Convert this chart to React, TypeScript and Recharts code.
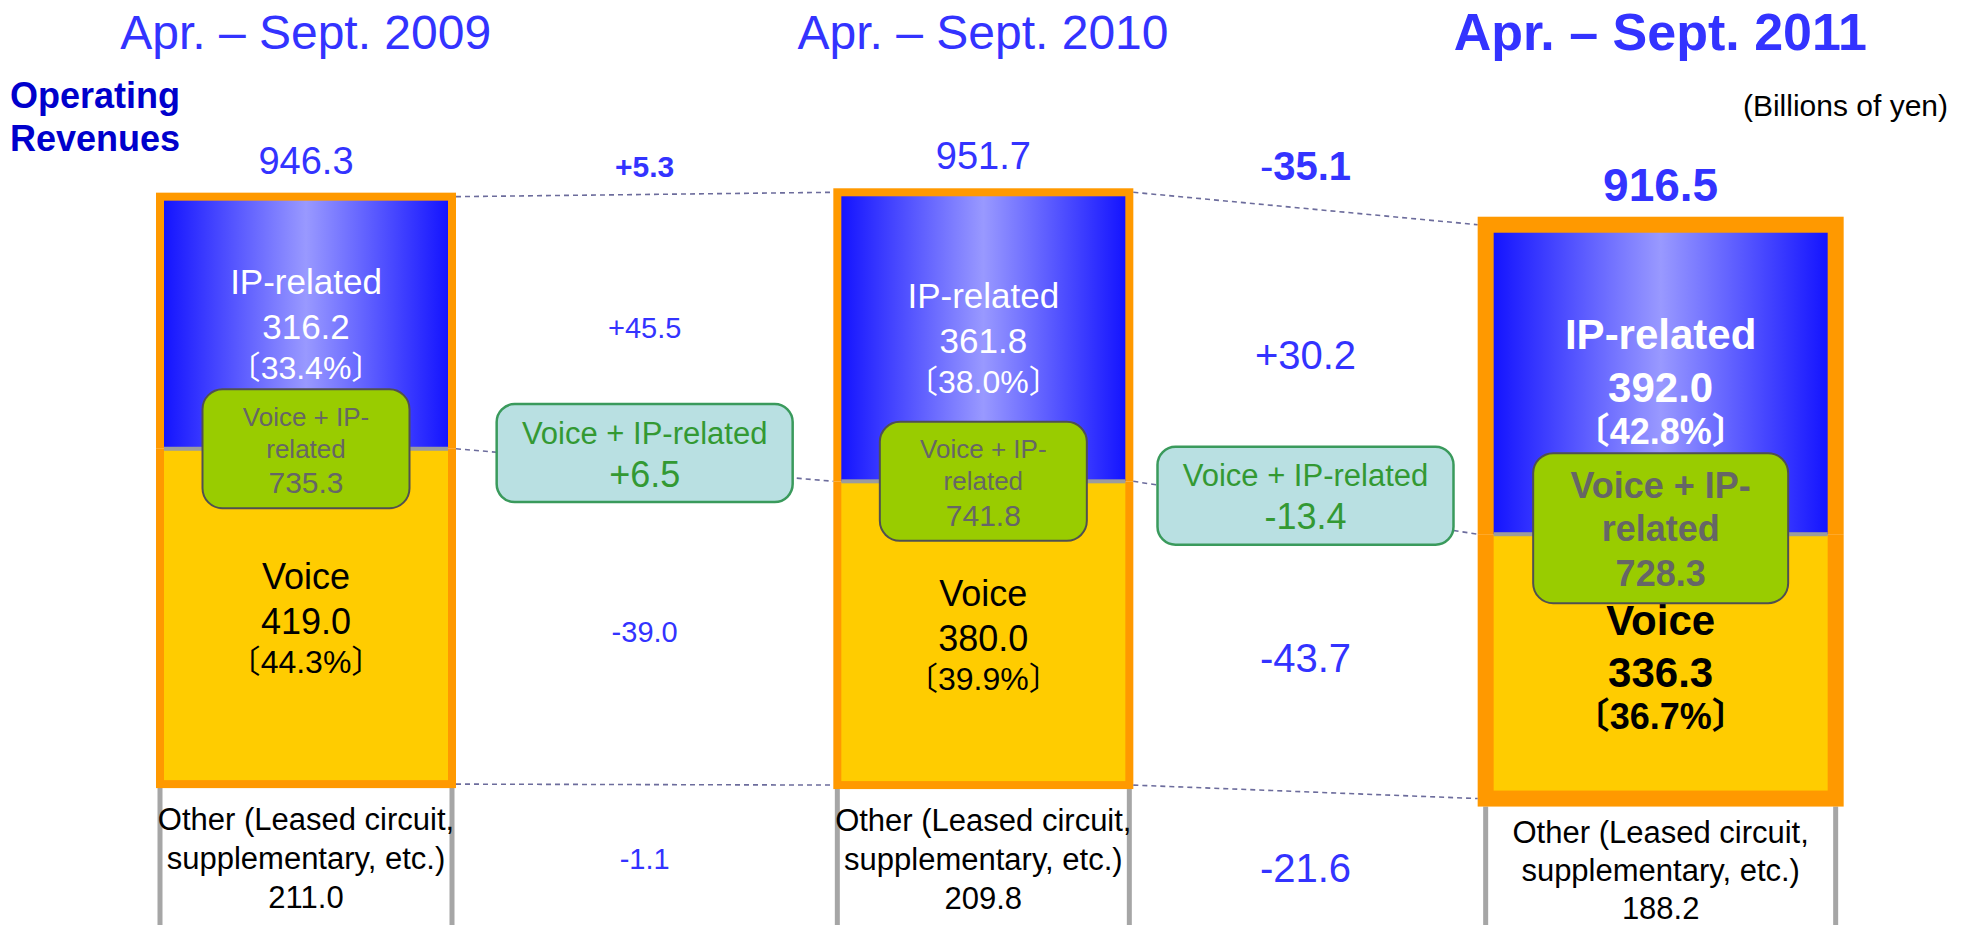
import React from "react";
import { BarChart, Bar, XAxis, YAxis, LabelList } from "recharts";

// Operating revenues, billions of yen
const periods = ["Apr. – Sept. 2009", "Apr. – Sept. 2010", "Apr. – Sept. 2011"];
const otherRev = [211.0, 209.8, 188.2];
const voiceRev = [419.0, 380.0, 336.3];
const ipRev = [316.2, 361.8, 392.0];
const totalRev = [946.3, 951.7, 916.5];
const voicePct = [44.3, 39.9, 36.7];
const ipPct = [33.4, 38.0, 42.8];
const voiceIpRev = [735.3, 741.8, 728.3];

// changes between neighbouring periods
const totalChange = [5.3, -35.1];
const ipChange = [45.5, 30.2];
const voiceIpChange = [6.5, -13.4];
const voiceChange = [-39.0, -43.7];
const otherChange = [-1.1, -21.6];

const data = periods.map((period, i) => ({
  period,
  other: otherRev[i],
  voice: voiceRev[i],
  ip: ipRev[i],
}));

const FONT = "'Liberation Sans', Arial, 'Noto Sans CJK JP', sans-serif";
const BLUE_TXT = "#3333ff";
const ORANGE = "#ff9900";
const YELLOW = "#ffcc00";
const CHART_W = 2032;
const CHART_H = 959;
const CHART_LEFT = -33;
const AXIS_H = 60;
const BAND = CHART_W / periods.length;
const BAR = 300;
const HL = 2; // current period, drawn wider and bold
const WIDE = 1.22;

const borderOf = (i: number) => (i === HL ? 16 : 8);
const barWidth = (i: number, w: number) => (i === HL ? w * WIDE : w);
const slot = (x: number, w: number) =>
  Math.min(periods.length - 1, Math.max(0, Math.floor((x + w / 2) / BAND)));
const signed = (v: number) => (v > 0 ? "+" : "") + v.toFixed(1);

const txt = {
  textAnchor: "middle" as const,
  dominantBaseline: "central" as const,
  fontFamily: FONT,
};

const TitleTick = (props: any) => {
  const { x, y, payload } = props;
  const hl = periods.indexOf(payload.value) === HL;
  return (
    <text
      x={x}
      y={y - 20}
      {...txt}
      fontSize={hl ? 52 : 48}
      fontWeight={hl ? 700 : 400}
      fill={BLUE_TXT}
    >
      {payload.value}
    </text>
  );
};

const OtherShape = (p: any) => {
  const { x, y, width, height } = p;
  const i = slot(x, width);
  const w = barWidth(i, width);
  const x0 = x + width / 2 - w / 2;
  const b = borderOf(i);
  return (
    <g>
      <rect x={x0} y={y} width={w} height={height} fill="#ffffff" />
      <line x1={x0 + b / 2} x2={x0 + b / 2} y1={y} y2={y + height} stroke="#a6a6a6" strokeWidth={5} />
      <line x1={x0 + w - b / 2} x2={x0 + w - b / 2} y1={y} y2={y + height} stroke="#a6a6a6" strokeWidth={5} />
    </g>
  );
};

const VoiceShape = (p: any) => {
  const { x, y, width, height } = p;
  const i = slot(x, width);
  const w = barWidth(i, width);
  const x0 = x + width / 2 - w / 2;
  const b = borderOf(i);
  return (
    <g>
      <rect x={x0} y={y} width={w} height={height} fill={ORANGE} />
      <rect x={x0 + b} y={y} width={w - 2 * b} height={height - b} fill={YELLOW} />
    </g>
  );
};

// dashed connectors and change figures between bar i and bar i + 1
const Bridge = ({ i, x, y, width, height }: any) => {
  const j = i + 1;
  const k = height / ipRev[i];
  const base = y + height + (voiceRev[i] + otherRev[i]) * k;
  const yOf = (v: number) => base - v * k;
  const cx = x + width / 2;
  const right = cx + barWidth(i, width) / 2;
  const left = cx + BAND - barWidth(j, width) / 2;
  const mx = (right + left) / 2;
  const top = (n: number) => yOf(otherRev[n] + voiceRev[n] + ipRev[n]);
  const mid = (n: number) => yOf(otherRev[n] + voiceRev[n]);
  const bot = (n: number) => yOf(otherRev[n]);
  const big = j === HL;
  const fs = big ? 40 : 29;
  const dash = { stroke: "#6c6c9c", strokeWidth: 1.6, strokeDasharray: "5 4" };
  const boxY = (mid(i) + mid(j)) / 2 - 12;
  const tc = totalChange[i];
  return (
    <g>
      <line x1={right} y1={top(i) + borderOf(i) / 2} x2={left} y2={top(j) + borderOf(j) / 2} {...dash} />
      <line x1={right} y1={mid(i)} x2={left} y2={mid(j)} {...dash} />
      <line x1={right} y1={bot(i) - borderOf(i) / 2} x2={left} y2={bot(j) - borderOf(j) / 2} {...dash} />
      <text x={mx} y={Math.min(top(i), top(j)) - 22} {...txt} fontSize={big ? 40 : 30} fontWeight={700} fill={BLUE_TXT}>
        {tc < 0 ? (
          <>
            <tspan fontWeight={400}>-</tspan>
            <tspan>{Math.abs(tc).toFixed(1)}</tspan>
          </>
        ) : (
          signed(tc)
        )}
      </text>
      <text x={mx} y={(top(i) + mid(i) + top(j) + mid(j)) / 4} {...txt} fontSize={fs} fill={BLUE_TXT}>
        {signed(ipChange[i])}
      </text>
      <rect x={mx - 148} y={boxY - 49} width={296} height={98} rx={18} fill="#b9e0e2" stroke="#3a9a5c" strokeWidth={2.5} />
      <text x={mx} y={boxY - 20} {...txt} fontSize={31} fill="#339933">
        Voice + IP-related
      </text>
      <text x={mx} y={boxY + 21} {...txt} fontSize={36} fill="#339933">
        {signed(voiceIpChange[i])}
      </text>
      <text x={mx} y={(mid(i) + bot(i) + mid(j) + bot(j)) / 4 + 5} {...txt} fontSize={fs} fill={BLUE_TXT}>
        {signed(voiceChange[i])}
      </text>
      <text x={mx} y={(bot(i) + bot(j)) / 2 + 70} {...txt} fontSize={fs} fill={BLUE_TXT}>
        {signed(otherChange[i])}
      </text>
    </g>
  );
};

const IpShape = (p: any) => {
  const { x, y, width, height } = p;
  const i = slot(x, width);
  const w = barWidth(i, width);
  const x0 = x + width / 2 - w / 2;
  const b = borderOf(i);
  const gid = `ipGrad${i}`;
  return (
    <g>
      <defs>
        <linearGradient id={gid} x1="0" x2="1" y1="0" y2="0">
          <stop offset="0" stopColor="#1414ff" />
          <stop offset="0.5" stopColor="#9999ff" />
          <stop offset="1" stopColor="#1414ff" />
        </linearGradient>
      </defs>
      <rect x={x0} y={y} width={w} height={height} fill={ORANGE} />
      <rect x={x0 + b} y={y + b} width={w - 2 * b} height={height - b} fill={`url(#${gid})`} />
      <rect x={x0 + b} y={y + height - 2} width={w - 2 * b} height={4} fill="#9c9c9c" />
      {i < periods.length - 1 && <Bridge i={i} x={x} y={y} width={width} height={height} />}
    </g>
  );
};

const boxOf = (p: any) => {
  const vb = p.viewBox && p.viewBox.width !== undefined ? p.viewBox : p;
  return { x: vb.x, y: vb.y, width: vb.width, height: vb.height };
};

const OtherLabel = (p: any) => {
  const { x, y, width } = boxOf(p);
  const i = slot(x, width);
  const cx = x + width / 2;
  const off = i === HL ? [26, 64, 102] : [31, 70, 109];
  return (
    <g>
      <text x={cx} y={y + off[0]} {...txt} fontSize={31} fill="#000">
        Other (Leased circuit,
      </text>
      <text x={cx} y={y + off[1]} {...txt} fontSize={31} fill="#000">
        supplementary, etc.)
      </text>
      <text x={cx} y={y + off[2]} {...txt} fontSize={31} fill="#000">
        {otherRev[i].toFixed(1)}
      </text>
    </g>
  );
};

const VoiceLabel = (p: any) => {
  const { x, y, width, height } = boxOf(p);
  const i = slot(x, width);
  const hl = i === HL;
  const cx = x + width / 2;
  const cy = y + height / 2;
  const off = hl ? [-50, 2, 46] : [-42, 3, 44];
  const fw = hl ? 700 : 400;
  return (
    <g>
      <text x={cx} y={cy + off[0]} {...txt} fontSize={hl ? 42 : 36} fontWeight={fw} fill="#000">
        Voice
      </text>
      <text x={cx} y={cy + off[1]} {...txt} fontSize={hl ? 42 : 36} fontWeight={fw} fill="#000">
        {voiceRev[i].toFixed(1)}
      </text>
      <text x={cx} y={cy + off[2]} {...txt} fontSize={hl ? 36 : 32} fontWeight={fw} fill="#000">
        〔{voicePct[i].toFixed(1)}%〕
      </text>
    </g>
  );
};

const IpLabel = (p: any) => {
  const { x, y, width, height } = boxOf(p);
  const i = slot(x, width);
  const hl = i === HL;
  const cx = x + width / 2;
  const cy = y + height / 2;
  const off = hl ? [-41, 12, 56] : [-39, 6, 47];
  const fw = hl ? 700 : 400;
  const boxW = hl ? 255 : 207;
  const boxH = hl ? 150 : 119;
  const by = y + height - (hl ? 6 : 0);
  const gap = hl ? 43 : 32;
  return (
    <g>
      <text x={cx} y={y - 32} {...txt} fontSize={hl ? 46 : 38} fontWeight={fw} fill={BLUE_TXT}>
        {totalRev[i].toFixed(1)}
      </text>
      <text x={cx} y={cy + off[0]} {...txt} fontSize={hl ? 42 : 35} fontWeight={fw} fill="#ffffff">
        IP-related
      </text>
      <text x={cx} y={cy + off[1]} {...txt} fontSize={hl ? 42 : 35} fontWeight={fw} fill="#ffffff">
        {ipRev[i].toFixed(1)}
      </text>
      <text x={cx} y={cy + off[2]} {...txt} fontSize={hl ? 36 : 32} fontWeight={fw} fill="#ffffff">
        〔{ipPct[i].toFixed(1)}%〕
      </text>
      <rect x={cx - boxW / 2} y={by - boxH / 2} width={boxW} height={boxH} rx={20} fill="#99cc00" stroke="#505050" strokeWidth={2} />
      <text x={cx} y={by - gap} {...txt} fontSize={hl ? 36 : 26} fontWeight={fw} fill="#666666">
        Voice + IP-
      </text>
      <text x={cx} y={by} {...txt} fontSize={hl ? 36 : 26} fontWeight={fw} fill="#666666">
        related
      </text>
      <text x={cx} y={by + gap + 2} {...txt} fontSize={hl ? 36 : 30} fontWeight={fw} fill="#666666">
        {voiceIpRev[i].toFixed(1)}
      </text>
    </g>
  );
};

export default function App() {
  return (
    <div
      style={{
        position: "absolute",
        left: 0,
        top: 0,
        width: 1970,
        height: 925,
        overflow: "hidden",
        background: "#ffffff",
        fontFamily: FONT,
      }}
    >
      <div style={{ position: "absolute", left: CHART_LEFT, top: 0 }}>
        <BarChart
          width={CHART_W}
          height={CHART_H}
          data={data}
          margin={{ top: 0, right: 0, bottom: 0, left: 0 }}
          barSize={BAR}
        >
          <XAxis
            dataKey="period"
            orientation="top"
            height={AXIS_H}
            axisLine={false}
            tickLine={false}
            interval={0}
            tick={(props: any) => <TitleTick {...props} />}
          />
          <YAxis hide domain={[0, 1110]} allowDataOverflow />
          <Bar dataKey="other" stackId="rev" isAnimationActive={false} shape={(p: any) => <OtherShape {...p} />}>
            <LabelList dataKey="other" content={(p: any) => <OtherLabel {...p} />} />
          </Bar>
          <Bar dataKey="voice" stackId="rev" isAnimationActive={false} shape={(p: any) => <VoiceShape {...p} />}>
            <LabelList dataKey="voice" content={(p: any) => <VoiceLabel {...p} />} />
          </Bar>
          <Bar dataKey="ip" stackId="rev" isAnimationActive={false} shape={(p: any) => <IpShape {...p} />}>
            <LabelList dataKey="ip" content={(p: any) => <IpLabel {...p} />} />
          </Bar>
        </BarChart>
      </div>
      <div
        style={{
          position: "absolute",
          left: 10,
          top: 74,
          fontSize: 36,
          fontWeight: 700,
          lineHeight: "43px",
          color: "#0000cc",
        }}
      >
        Operating
        <br />
        Revenues
      </div>
      <div
        style={{
          position: "absolute",
          right: 22,
          top: 89,
          fontSize: 30,
          lineHeight: "34px",
          color: "#000000",
        }}
      >
        (Billions of yen)
      </div>
    </div>
  );
}
